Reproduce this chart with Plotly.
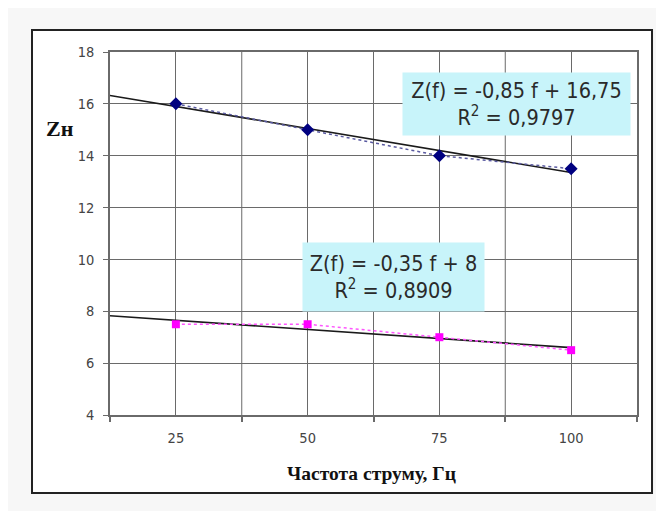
import numpy as np
import plotly.graph_objects as go

# ---- data ----
freq = [25, 50, 75, 100]
z_top = [16, 15, 14, 13.5]
z_bot = [7.5, 7.5, 7, 6.5]
y_ticks = [4, 6, 8, 10, 12, 14, 16, 18]
x_labels = ["25", "50", "75", "100"]
eq_top = "Z(f) = -0,85 f + 16,75<br>R<sup>2</sup> = 0,9797"
eq_bot = "Z(f) = -0,35 f + 8<br>R<sup>2</sup> = 0,8909"
x_title = "Частота струму, Гц"
y_title = "Zн"

step = freq[1] - freq[0]
bounds = [f - step / 2 for f in freq] + [freq[-1] + step / 2]

# trendlines on category index (1..4), as in the spreadsheet
idx = np.arange(1, len(freq) + 1)
def trend(vals):
    k, b = np.polyfit(idx, vals, 1)
    xi = np.array([0.5, len(freq)])
    return list(xi * step), list(k * xi + b)

grid = "#6a6a6a"
fig = go.Figure()
# outer white frame behind the chart
fig.add_shape(type="rect", xref="paper", yref="paper", x0=-0.148, x1=1.0285, y0=-0.2149, y1=1.0606,
              line=dict(color="#222", width=2), fillcolor="white", layer="below")
# category-boundary grid lines, placed through the x scale
for b in bounds[1:-1]:
    fig.add_shape(type="line", xref="x", yref="paper", x0=b, x1=b, y0=0, y1=1,
                  line=dict(color=grid, width=1), layer="below")

# helper trace for the secondary (tick) x axis
fig.add_trace(go.Scatter(x=[bounds[0]], y=[None], xaxis="x2", mode="markers", showlegend=False, hoverinfo="skip"))
tx, ty = trend(z_top)
bx, by = trend(z_bot)
fig.add_trace(go.Scatter(x=tx, y=ty, mode="lines", line=dict(color="#1a1a1a", width=1.6), showlegend=False))
fig.add_trace(go.Scatter(x=bx, y=by, mode="lines", line=dict(color="#1a1a1a", width=1.6), showlegend=False))
fig.add_trace(go.Scatter(x=freq, y=z_top, mode="lines+markers",
                         line=dict(color="#5a5aa0", width=1.5, dash="dot"),
                         marker=dict(symbol="diamond", size=10, color="#000080"), showlegend=False))
fig.add_trace(go.Scatter(x=freq, y=z_bot, mode="lines+markers",
                         line=dict(color="#ff55ff", width=1.5, dash="dot"),
                         marker=dict(symbol="square", size=8, color="#ff00ff"), showlegend=False))

ann_font = dict(family="DejaVu Sans Condensed, Liberation Sans", size=21.5, color="#2a2a2a")
fig.add_annotation(x=89.6, y=16.0, xref="x", yref="y", text=eq_top, showarrow=False,
                   bgcolor="#c8f4fa", width=227, height=62, borderpad=0, font=ann_font, align="center")
fig.add_annotation(x=66.3, y=9.31, xref="x", yref="y", text=eq_bot, showarrow=False,
                   bgcolor="#c8f4fa", width=181, height=68, borderpad=0, font=ann_font, align="center")

fig.add_annotation(x=-0.095, y=0.79, xref="paper", yref="paper", text="<b>" + y_title + "</b>", showarrow=False,
                   xanchor="center", yanchor="middle",
                   font=dict(family="Liberation Serif, Times New Roman", size=22, color="#111"))
fig.add_annotation(x=0.497, y=-0.1625, xref="paper", yref="paper", text="<b>" + x_title + "</b>", showarrow=False,
                   xanchor="center", yanchor="middle",
                   font=dict(family="Liberation Serif, Times New Roman", size=19.5, color="#111"))

tick_font = dict(family="DejaVu Sans Condensed, Liberation Sans", size=14.5, color="#444")
fig.update_layout(
    xaxis=dict(range=[bounds[0], bounds[-1]], tickvals=freq, ticktext=x_labels,
               showgrid=True, gridcolor=grid, gridwidth=1, ticks="", ticklabelstandoff=9,
               showline=True, linecolor=grid, linewidth=1.5, mirror=True, zeroline=False,
               tickfont=tick_font),
    xaxis2=dict(range=[bounds[0], bounds[-1]], overlaying="x", side="bottom", anchor="y",
                tickvals=bounds, ticks="outside", ticklen=6, tickcolor=grid, tickwidth=1.5,
                showticklabels=False, showgrid=False, zeroline=False, showline=False),
    yaxis=dict(range=[4, 18], tickvals=y_ticks, showgrid=True, gridcolor=grid, gridwidth=1,
               ticks="outside", ticklen=5, tickcolor=grid, ticklabelstandoff=6,
               showline=True, linecolor=grid, linewidth=1.5, mirror=True, zeroline=False,
               tickfont=tick_font),
)

fig.update_layout(width=656, height=503, margin=dict(l=102, r=27, t=44, b=96),
                  paper_bgcolor="#f7f7f7", plot_bgcolor="white", showlegend=False)
fig.write_html("out.html")
